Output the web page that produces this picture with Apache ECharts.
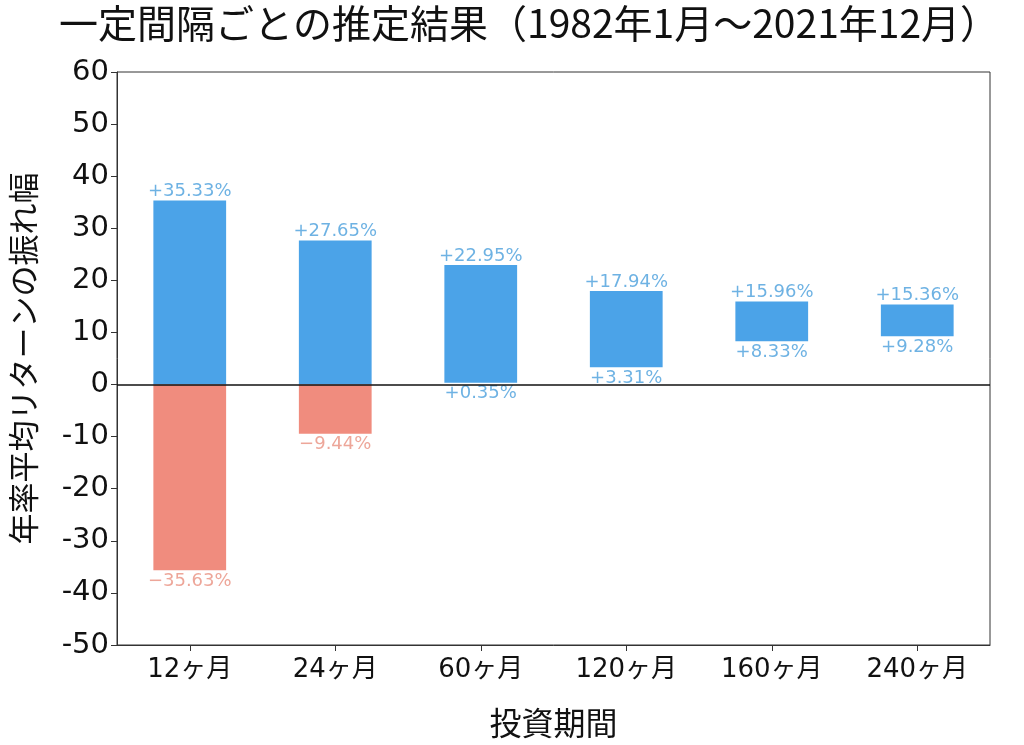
<!DOCTYPE html>
<html>
<head>
<meta charset="utf-8">
<script src="https://cdn.jsdelivr.net/npm/echarts@6/dist/echarts.min.js"></script>
<style>
  html, body { margin: 0; padding: 0; background: #fff; }
  #chart { width: 1024px; height: 745px; }
</style>
</head>
<body>
<div id="chart"></div>
<script>
// 投資期間ごとの年率平均リターンの上限・下限
const categories = ['12ヶ月', '24ヶ月', '60ヶ月', '120ヶ月', '160ヶ月', '240ヶ月']
const highValues = [35.33, 27.65, 22.95, 17.94, 15.96, 15.36]
const lowValues = [-35.63, -9.44, 0.35, 3.31, 8.33, 9.28]

const BLUE = '#4ba3e8'
const RED = '#f08c7e'
const BLUE_TXT = '#4a9fdc'
const RED_TXT = '#e8907f'
const CJK = '"Noto Sans CJK JP", "Noto Sans", sans-serif'
const TICK_FONT = '"DejaVu Sans", "Noto Sans CJK JP", sans-serif'

const fmt = (v) => (v >= 0 ? '+' : '\u2212') + Math.abs(v).toFixed(2) + '%'

// 積み上げ用: 透明な土台 + 正側(青) + 負側(赤)
const baseData = lowValues.map((lo) => (lo > 0 ? lo : 0))
const posData = highValues.map((hi, i) => (hi > 0 ? hi - baseData[i] : 0))
const negData = lowValues.map((lo) => (lo < 0 ? lo : 0))

const chart = echarts.init(document.getElementById('chart'))
chart.setOption({
  animation: false,
  title: {
    text: '一定間隔ごとの推定結果（1982年1月～2021年12月）',
    left: 54,
    top: -1,
    textStyle: { fontFamily: CJK, fontSize: 39, fontWeight: 'normal', color: '#111' },
  },
  grid: {
    left: 117, right: 34, top: 72, bottom: 100,
    show: true, borderColor: '#333', borderWidth: 1,
  },
  xAxis: {
    type: 'category',
    data: categories,
    name: '投資期間',
    nameLocation: 'middle',
    nameGap: 62,
    nameTextStyle: { fontFamily: CJK, fontSize: 32, color: '#111' },
    axisLine: { show: true, onZero: false, lineStyle: { color: '#333' } },
    axisTick: { show: true, alignWithLabel: true, length: 6, lineStyle: { color: '#333' } },
    axisLabel: { fontFamily: TICK_FONT, fontSize: 26, color: '#111', margin: 12 },
  },
  yAxis: {
    type: 'value',
    min: -50,
    max: 60,
    interval: 10,
    name: '年率平均リターンの振れ幅',
    nameLocation: 'middle',
    nameRotate: 90,
    nameGap: 78,
    nameTextStyle: { fontFamily: CJK, fontSize: 31, color: '#111' },
    axisLine: { show: true, lineStyle: { color: '#333' } },
    axisTick: { show: true, length: 6, lineStyle: { color: '#333' } },
    axisLabel: { fontFamily: TICK_FONT, fontSize: 29, color: '#111', margin: 8 },
    splitLine: { show: false },
  },
  series: [
    {
      name: 'base',
      type: 'bar',
      stack: 'range',
      barWidth: '50%',
      data: baseData,
      itemStyle: { color: 'transparent' },
      silent: true,
    },
    {
      name: '上昇側',
      type: 'bar',
      stack: 'range',
      barWidth: '50%',
      data: posData,
      itemStyle: { color: BLUE },
    },
    {
      name: '下落側',
      type: 'bar',
      stack: 'range',
      barWidth: '50%',
      data: negData,
      itemStyle: { color: RED },
      markLine: {
        silent: true,
        symbol: 'none',
        label: { show: false },
        lineStyle: { color: '#111', width: 1.5, type: 'solid' },
        data: [{ yAxis: 0 }],
      },
    },
    {
      name: '上限ラベル',
      type: 'scatter',
      symbolSize: 0,
      data: highValues,
      label: {
        show: true,
        position: 'top',
        distance: 0,
        fontFamily: 'DejaVu Sans',
        fontSize: 18,
        color: BLUE_TXT,
        formatter: (p) => fmt(p.value),
      },
    },
    {
      name: '下限ラベル',
      type: 'scatter',
      symbolSize: 0,
      data: lowValues.map((v) => ({
        value: v,
        label: { color: v < 0 ? RED_TXT : BLUE_TXT },
      })),
      label: {
        show: true,
        position: 'bottom',
        distance: 2,
        fontFamily: 'DejaVu Sans',
        fontSize: 18,
        formatter: (p) => fmt(p.value),
      },
    },
  ],
})
</script>
</body>
</html>
